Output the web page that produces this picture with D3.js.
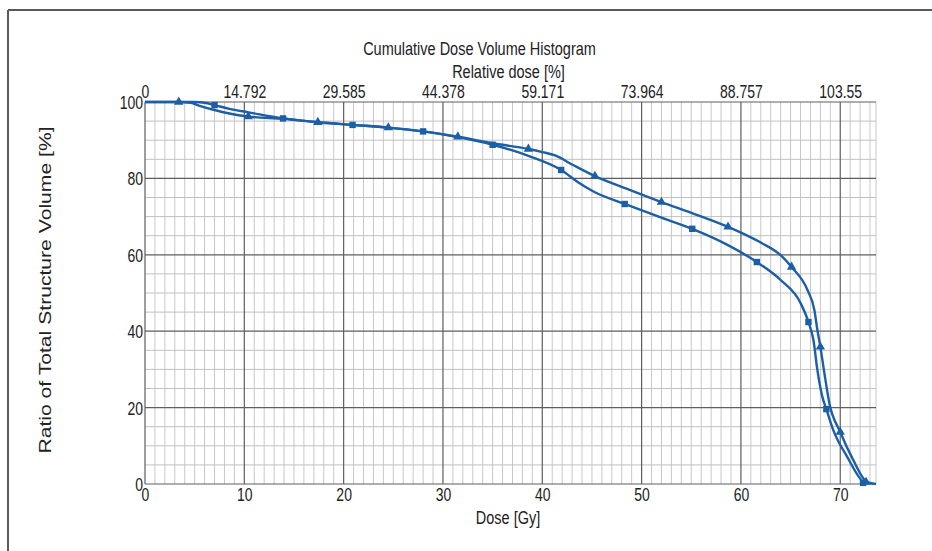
<!DOCTYPE html>
<html>
<head>
<meta charset="utf-8">
<script src="https://cdn.jsdelivr.net/npm/d3@7"></script>
<style>
  html, body { margin: 0; padding: 0; background: #fff; }
  svg { display: block; }
  text { font-family: "Liberation Sans", Arial, sans-serif; fill: #222; }
</style>
</head>
<body>
<svg id="chart" width="932" height="551"></svg>
<script>
// ---- Data ----
const doseTicks = [0, 10, 20, 30, 40, 50, 60, 70];
const relativeDoseLabels = ["0", "14.792", "29.585", "44.378", "59.171", "73.964", "88.757", "103.55"];
const volumeTicks = [0, 20, 40, 60, 80, 100];

// Curve with triangle markers (dose Gy, volume %)
const curveTri = [
  [0,100],[3.4,100],[4.6,99.8],[5.5,99.0],[7.0,97.9],[8.5,97.0],[10.4,96.2],[13.9,95.6],
  [17.4,94.7],[20.9,94.0],[24.5,93.3],[28.0,92.3],[31.5,90.9],[35.0,89.2],[38.6,87.7],
  [40.0,86.9],[41.3,86.0],[43.1,83.5],[45.3,80.6],[48.6,77.2],[52.0,73.8],[55.4,70.6],
  [58.7,67.3],[60.0,65.8],[62.0,63.2],[64.0,59.9],[65.1,56.8],[66.7,50.8],[67.4,45.5],
  [67.7,40.3],[68.0,35.9],[68.4,29.1],[68.9,21.2],[70.0,13.6],[71.3,6.3],[72.7,0.5],[73.6,0]
];
// Curve with square markers
const curveSq = [
  [0,100],[5.0,100],[6.0,99.8],[7.0,99.2],[8.5,98.2],[10.4,97.3],[13.9,95.7],[17.4,94.7],
  [20.9,94.0],[24.5,93.3],[28.0,92.3],[31.5,90.8],[35.0,88.8],[38.6,85.9],[41.9,82.2],
  [43.6,79.0],[45.2,76.5],[48.3,73.3],[51.7,70.0],[55.1,66.8],[58.5,62.8],[61.6,58.1],
  [64.0,53.4],[66.0,47.4],[66.8,42.4],[67.3,37.7],[67.7,29.8],[68.2,22.8],[68.6,19.6],
  [69.3,14.1],[70.7,7.1],[72.4,0.3],[72.6,0]
];
const triMarkers = [
  [3.4,100],[10.4,96.2],[17.4,94.7],[24.5,93.3],[31.5,90.9],[38.6,87.7],[45.3,80.6],
  [52.0,73.8],[58.7,67.3],[65.1,56.8],[68.0,35.9],[70.0,13.6],[72.6,0.5]
];
const sqMarkers = [
  [7.0,99.2],[13.9,95.7],[20.9,94.0],[28.0,92.3],[35.0,88.8],[41.9,82.2],[48.3,73.3],
  [55.1,66.8],[61.6,58.1],[66.8,42.4],[68.6,19.6],[72.3,0.3]
];
const xMax = 73.6;

// ---- Layout ----
const SY = 1.33; // vertical text stretch
const svg = d3.select("#chart");
const x = d3.scaleLinear().domain([0, xMax]).range([145, 876]);
const y = d3.scaleLinear().domain([0, 100]).range([484, 102]);
const blue = "#1d5fa6";

// frame lines (top & left)
svg.append("line").attr("x1", 8).attr("x2", 932).attr("y1", 10).attr("y2", 10)
  .attr("stroke", "#5a5a5a").attr("stroke-width", 2);
svg.append("line").attr("x1", 8).attr("x2", 8).attr("y1", 10).attr("y2", 551)
  .attr("stroke", "#5a5a5a").attr("stroke-width", 2);

// grid minor
const grid = svg.append("g");
const minorX = d3.range(1, Math.floor(xMax) + 1).filter(v => v % 10 !== 0);
grid.selectAll("line.mx").data(minorX.concat([xMax])).join("line")
  .attr("x1", d => x(d)).attr("x2", d => x(d)).attr("y1", y(100)).attr("y2", y(0))
  .attr("stroke", "#c8c8c8").attr("stroke-width", 1);
const minorY = d3.range(5, 100, 5).filter(v => v % 20 !== 0);
grid.selectAll("line.my").data(minorY).join("line")
  .attr("x1", x(0)).attr("x2", x(xMax)).attr("y1", d => y(d)).attr("y2", d => y(d))
  .attr("stroke", "#c0c0c0").attr("stroke-width", 1);
// major
grid.selectAll("line.Mx").data(doseTicks).join("line")
  .attr("x1", d => x(d)).attr("x2", d => x(d)).attr("y1", y(100)).attr("y2", y(0))
  .attr("stroke", "#5e5e5e").attr("stroke-width", 1.2);
grid.selectAll("line.My").data(volumeTicks).join("line")
  .attr("x1", x(0)).attr("x2", x(xMax)).attr("y1", d => y(d)).attr("y2", d => y(d))
  .attr("stroke", "#5e5e5e").attr("stroke-width", 1.2);

// axes
function styleTicks(g, yOff, anchor, dx) {
  g.select(".domain").remove();
  g.selectAll(".tick line").remove();
  g.selectAll(".tick text")
    .attr("font-size", 14).attr("font-family", "Liberation Sans, Arial, sans-serif")
    .attr("fill", "#222")
    .attr("dy", 0).attr("y", yOff / SY).attr("x", dx || 0)
    .attr("text-anchor", anchor)
    .attr("transform", `scale(1,${SY})`);
}
svg.append("g").attr("transform", `translate(0,${y(0)})`)
  .call(d3.axisBottom(x).tickValues(doseTicks).tickFormat(d3.format("d")))
  .call(g => styleTicks(g, 17, "middle"));
svg.append("g").attr("transform", `translate(0,${y(100)})`)
  .call(d3.axisTop(x).tickValues(doseTicks).tickFormat((d, i) => relativeDoseLabels[i]))
  .call(g => styleTicks(g, -4, "middle"));
svg.append("g").attr("transform", `translate(${x(0)},0)`)
  .call(d3.axisLeft(y).tickValues(volumeTicks).tickFormat(d3.format("d")))
  .call(g => styleTicks(g, 6.5, "end", -2));

// titles
function stretchedText(px, py, txt, size, rotate) {
  const g = svg.append("g").attr("transform", `translate(${px},${py}) scale(1,${SY})` + (rotate ? ` rotate(${rotate})` : ""));
  return g.append("text").attr("text-anchor", "middle").attr("font-size", size).text(txt);
}
stretchedText(479.5, 55, "Cumulative Dose Volume Histogram", 14.5);
stretchedText(508.5, 78, "Relative dose [%]", 14.5);
stretchedText(508, 524, "Dose [Gy]", 14.5);
stretchedText(51, 290, "Ratio of Total Structure Volume [%]", 15.9, -90);

// curves
const line = d3.line().x(d => x(d[0])).y(d => y(d[1])).curve(d3.curveMonotoneX);
const curves = svg.append("g");
[curveTri, curveSq].forEach(c => {
  curves.append("path").datum(c).attr("d", line)
    .attr("fill", "none").attr("stroke", blue).attr("stroke-width", 2.4)
    .attr("stroke-linejoin", "round");
});
curves.selectAll("path.tri").data(triMarkers).join("path")
  .attr("d", d3.symbol().type(d3.symbolTriangle).size(38))
  .attr("transform", d => `translate(${x(d[0])},${y(d[1])})`)
  .attr("fill", blue);
curves.selectAll("rect.sq").data(sqMarkers).join("rect")
  .attr("x", d => x(d[0]) - 3.2).attr("y", d => y(d[1]) - 3.2)
  .attr("width", 6.4).attr("height", 6.4)
  .attr("fill", blue);
</script>
</body>
</html>
